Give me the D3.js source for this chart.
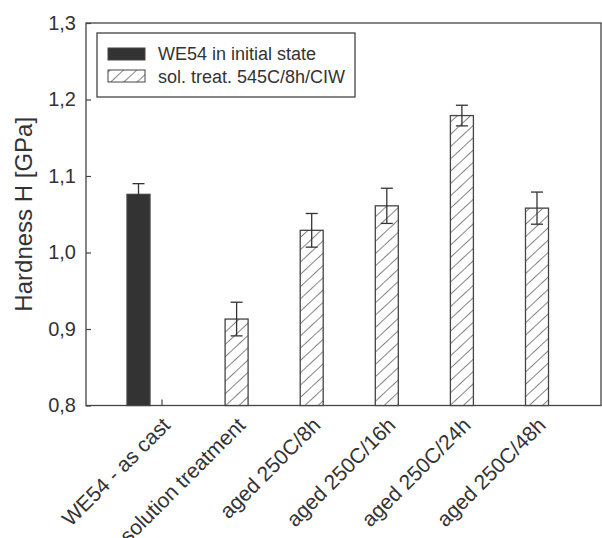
<!DOCTYPE html>
<html>
<head>
<meta charset="utf-8">
<script src="https://cdn.jsdelivr.net/npm/d3@7"></script>
<style>
    body { margin: 0; background: #fff; }
    svg text { font-family: Arial, "Liberation Sans", Helvetica, sans-serif; fill: #333; }
</style>
</head>
<body>
<div id="chart"></div>
<script>
const categories = ["WE54 - as cast", "solution treatment", "aged 250C/8h", "aged 250C/16h", "aged 250C/24h", "aged 250C/48h"]
const initialState = [1.076, null, null, null, null, null]
const initialErr = [0.014, null, null, null, null, null]
const solTreat = [null, 0.913, 1.029, 1.061, 1.179, 1.058]
const solErr = [null, 0.022, 0.022, 0.023, 0.0135, 0.021]
const yTicks = [0.8, 0.9, 1.0, 1.1, 1.2, 1.3]
const legendLabels = ["WE54 in initial state", "sol. treat. 545C/8h/CIW"]

const renderHardness = (htmlComponent) => {
    const width = 602, height = 538
    const plot = { left: 86, right: 601, top: 23, bottom: 405.5 }
    const ink = '#444'

    const svg = d3.select(htmlComponent).append('svg')
        .attr('width', width)
        .attr('height', height)

    const defs = svg.append('defs')
    const hatch = defs.append('pattern')
        .attr('id', 'hatch')
        .attr('patternUnits', 'userSpaceOnUse')
        .attr('width', 9)
        .attr('height', 9)
        .attr('patternTransform', 'rotate(47)')
    hatch.append('rect').attr('width', 9).attr('height', 9).attr('fill', '#fff')
    hatch.append('line')
        .attr('x1', 0).attr('y1', -1).attr('x2', 0).attr('y2', 10)
        .attr('stroke', '#333').attr('stroke-width', 1.2)

    const y = d3.scaleLinear()
        .domain([0.8, 1.3])
        .range([plot.bottom, plot.top])

    const x = d3.scalePoint()
        .domain(categories)
        .range([161.5, 537])

    const barW = 23
    const fmt = v => d3.format('.1f')(v).replace('.', ',')

    // frame
    svg.append('rect')
        .attr('x', plot.left).attr('y', plot.top)
        .attr('width', plot.right - plot.left).attr('height', plot.bottom - plot.top)
        .attr('fill', 'none').attr('stroke', ink).attr('stroke-width', 1.3)

    // y axis
    const yAxis = d3.axisLeft(y)
        .tickValues(yTicks)
        .tickFormat(fmt)
        .tickSizeInner(-5)
        .tickSizeOuter(0)
        .tickPadding(10)
    const yg = svg.append('g')
        .attr('transform', `translate(${plot.left},0)`)
        .call(yAxis)
    yg.select('.domain').remove()
    yg.selectAll('.tick line').attr('stroke', ink).attr('stroke-width', 1.2)
    yg.selectAll('.tick text')
        .style('font-size', '20px')
        .style('font-family', 'Arial, "Liberation Sans", sans-serif')
        .attr('fill', '#333')

    // x axis (ticks pointing inward)
    const xAxis = d3.axisBottom(x)
        .tickSizeInner(-6)
        .tickSizeOuter(0)
        .tickFormat('')
    const xg = svg.append('g')
        .attr('transform', `translate(0,${plot.bottom})`)
        .call(xAxis)
    xg.select('.domain').remove()
    xg.selectAll('.tick line').attr('stroke', ink).attr('stroke-width', 1.2)

    // x labels, rotated
    svg.append('g').selectAll('text')
        .data(categories)
        .enter()
            .append('text')
                .attr('transform', d => `translate(${x(d) + 10},${plot.bottom + 21}) rotate(-45)`)
                .attr('text-anchor', 'end')
                .style('font-size', '21px')
                .text(d => d)

    // y title
    svg.append('text')
        .attr('transform', `translate(32,${(plot.top + plot.bottom) / 2}) rotate(-90)`)
        .attr('text-anchor', 'middle')
        .style('font-size', '24px')
        .text('Hardness H [GPa]')

    const series = [
        { values: initialState, errs: initialErr, offset: -barW, fill: '#333' },
        { values: solTreat, errs: solErr, offset: 0, fill: 'url(#hatch)' }
    ]

    series.forEach(s => {
        const rows = categories.map((c, i) => ({ c, v: s.values[i], e: s.errs[i] }))
            .filter(r => r.v != null)
        const g = svg.append('g')
        g.selectAll('rect').data(rows)
            .enter()
                .append('rect')
                    .attr('x', d => x(d.c) + s.offset - barW / 2)
                    .attr('width', barW)
                    .attr('y', d => y(d.v))
                    .attr('height', d => plot.bottom - y(d.v))
                    .attr('fill', s.fill)
                    .attr('stroke', ink)
                    .attr('stroke-width', 1.3)
        // error bars
        const eg = g.selectAll('g.err').data(rows)
            .enter()
                .append('g').attr('class', 'err')
        eg.append('line')
            .attr('x1', d => x(d.c) + s.offset).attr('x2', d => x(d.c) + s.offset)
            .attr('y1', d => y(d.v + d.e)).attr('y2', d => y(d.v - d.e))
            .attr('stroke', '#333').attr('stroke-width', 1.3)
        eg.selectAll('line.cap')
            .data(d => [d.v + d.e, d.v - d.e].map(val => ({ c: d.c, val })))
            .enter()
                .append('line')
                    .attr('class', 'cap')
                    .attr('x1', d => x(d.c) + s.offset - 6).attr('x2', d => x(d.c) + s.offset + 6)
                    .attr('y1', d => y(d.val)).attr('y2', d => y(d.val))
                    .attr('stroke', '#333').attr('stroke-width', 1.3)
    })

    // legend
    const lg = svg.append('g')
    lg.append('rect')
        .attr('x', 97).attr('y', 33).attr('width', 258).attr('height', 64)
        .attr('fill', '#fff').attr('stroke', ink).attr('stroke-width', 1.3)
    const swatchFill = ['#333', 'url(#hatch)']
    legendLabels.forEach((label, i) => {
        lg.append('rect')
            .attr('x', 108).attr('y', 48 + i * 22)
            .attr('width', 37).attr('height', 12)
            .attr('fill', swatchFill[i])
            .attr('stroke', ink).attr('stroke-width', 1)
        lg.append('text')
            .attr('x', 158).attr('y', 60 + i * 23)
            .style('font-size', '18px')
            .text(label)
    })
}

renderHardness('#chart')
</script>
</body>
</html>
